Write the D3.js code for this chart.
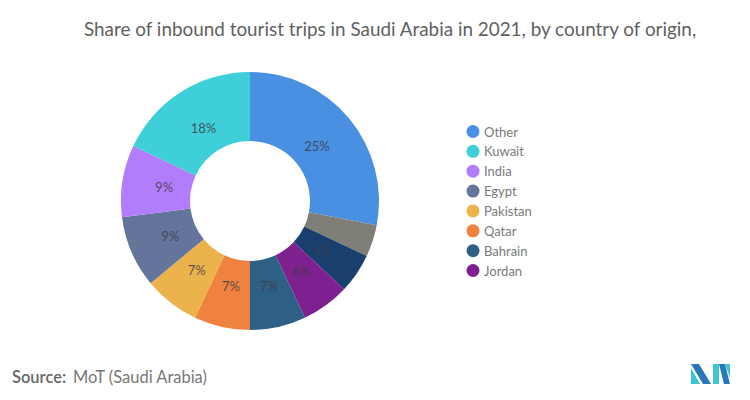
<!DOCTYPE html>
<html>
<head>
<meta charset="utf-8">
<script src="https://cdn.jsdelivr.net/npm/d3@7"></script>
<style>
  html, body { margin: 0; padding: 0; background: #ffffff; }
  svg { display: block; }
</style>
</head>
<body>
<svg id="chart" width="750" height="400"></svg>
<script>
// ---- data (clockwise from 12 o'clock) ----
const categories = ["Other", "Unlisted A", "Unlisted B", "Jordan", "Bahrain", "Qatar", "Pakistan", "Egypt", "India", "Kuwait"];
const shares     = [28, 4, 5, 6, 7, 7, 7, 9, 9, 18];
const sliceLabels = ["25%", "", "5%", "6%", "7%", "7%", "7%", "9%", "9%", "18%"];
const colors     = ["#4a90e2", "#7f7f78", "#183f6e", "#7e2090", "#2e5f85", "#f0823f", "#ecb24b", "#63759b", "#b27dfc", "#3fcfd9"];
const legendCategories = ["Other", "Kuwait", "India", "Egypt", "Pakistan", "Qatar", "Bahrain", "Jordan"];
const titleText = "Share of inbound tourist trips in Saudi Arabia in 2021, by country of origin,";

const svg = d3.select("#chart");
const font = "Lato, 'Open Sans', sans-serif";

// title
const title = svg.append("text")
  .attr("x", 84).attr("y", 36)
  .attr("font-family", font).attr("font-size", 18)
  .attr("fill", "#5f5f5f")
  .text(titleText);
const tw = title.node().getComputedTextLength();
title.attr("font-size", 18 * 613 / tw);

// donut
const color = d3.scaleOrdinal().domain(categories).range(colors);
const pie = d3.pie().sort(null).value(d => d.v);
const data = categories.map((c, i) => ({ c, v: shares[i], label: sliceLabels[i] }));
const arcs = pie(data);
const arc = d3.arc().innerRadius(60).outerRadius(129);
const labelArc = d3.arc().innerRadius(87).outerRadius(87);

const g = svg.append("g").attr("transform", "translate(250,201)");
g.selectAll("path").data(arcs).join("path")
  .attr("d", arc)
  .attr("fill", d => color(d.data.c));

g.selectAll("text").data(arcs.filter(d => d.data.label)).join("text")
  .attr("transform", d => `translate(${labelArc.centroid(d)})`)
  .attr("text-anchor", "middle")
  .attr("dominant-baseline", "central")
  .attr("font-family", font).attr("font-size", 13)
  .attr("fill", "#3d3d48").attr("fill-opacity", 0.85)
  .text(d => d.data.label);

// legend
const legendY = d3.scalePoint().domain(legendCategories).range([131.5, 270.5]);
const lg = svg.append("g");
const items = lg.selectAll("g").data(legendCategories).join("g")
  .attr("transform", d => `translate(473,${legendY(d)})`);
items.append("circle").attr("r", 6.5).attr("fill", d => color(d));
items.append("text")
  .attr("x", 11).attr("dominant-baseline", "central")
  .attr("font-family", font).attr("font-size", 13)
  .attr("fill", "#7a7a7a")
  .text(d => d);

// source
const src = svg.append("text").attr("x", 12).attr("y", 383)
  .attr("font-family", font).attr("font-size", 14).attr("fill", "#666");
src.append("tspan").attr("font-weight", 600).text("Source:");
src.append("tspan").attr("dx", 7).attr("fill", "#777").text("MoT (Saudi Arabia)");
const sw = src.node().getComputedTextLength();
src.attr("font-size", 14 * 188 / sw);

// logo
const logo = svg.append("g").attr("transform", "translate(691,364)");
logo.append("polygon").attr("points", "0,0 8,0 20,20 12,20").attr("fill", "#2a78b8");
logo.append("polygon").attr("points", "0,4 0,20 9,20").attr("fill", "#3cc6d4");
logo.append("polygon").attr("points", "22,0 28,0 28,20 22,20").attr("fill", "#3cc6d4");
logo.append("polygon").attr("points", "28,0 34,0 39,20 33,20").attr("fill", "#2a78b8");
logo.append("polygon").attr("points", "34,0 39,0 39,14").attr("fill", "#3cc6d4");
</script>
</body>
</html>
